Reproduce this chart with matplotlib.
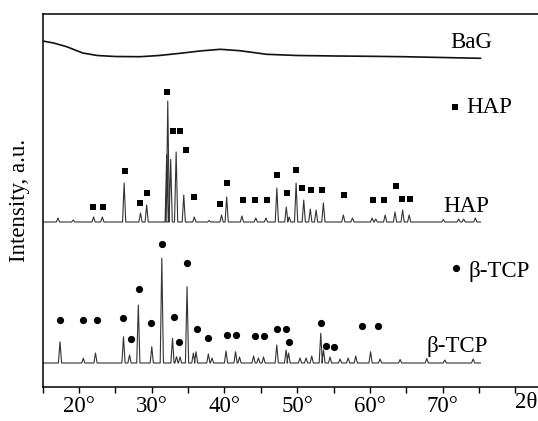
import numpy as np
import matplotlib
matplotlib.use("Agg")
import matplotlib.pyplot as plt
from matplotlib.ticker import MultipleLocator, FixedLocator, FixedFormatter

plt.rcParams["font.family"] = ["Liberation Serif", "DejaVu Serif"]
plt.rcParams["font.size"] = 16.5

# BaG amorphous hump (2theta, intensity)
bag_2t = [15.0, 16.5, 18.3, 20.5, 22.5, 25.0, 28.4, 31.0, 33.9, 36.6, 39.4,
          42.1, 45.8, 50.0, 55.4, 60.0, 64.6, 70.0, 75.2]
bag_int = [346, 344, 340.3, 334, 331.5, 330.5, 330.3, 331.5, 333.7, 336, 337.7,
           336.3, 332.7, 331.5, 331, 330.7, 330.3, 329.5, 328.7]

# HAP peaks: position and height above baseline
hap_pos = [17.1, 19.2, 22.0, 23.2, 26.2, 28.45, 29.3, 32.05, 32.2, 32.6, 33.35,
           34.4, 35.85, 37.9, 39.6, 40.3, 42.4, 44.3, 45.7, 47.2, 48.5, 48.9,
           49.85, 50.9, 51.8, 52.6, 53.6, 56.35, 57.6, 60.3, 60.8, 62.1, 63.45,
           64.5, 65.4, 70.1, 72.2, 72.9, 74.5]
hap_h = [4, 2, 5, 5, 39, 9, 17, 67, 121, 62.5, 70,
         27, 5, 1.5, 7, 25, 6, 4, 4, 34, 15, 5,
         39, 22, 13, 12, 19, 7, 4, 4, 3, 7, 10,
         12, 7, 2.5, 3, 3, 4]
# HAP reflection markers (squares)
hap_mk_pos = [21.96, 23.25, 26.27, 28.38, 29.31, 32.14, 32.88, 33.89, 34.67,
              35.85, 39.39, 40.31, 42.51, 44.2, 45.81, 47.19, 48.56, 49.8,
              50.63, 51.86, 53.38, 56.44, 60.47, 61.99, 63.6, 64.46, 65.52]
hap_mk_h = [15.3, 15.3, 51.3, 18.7, 28.7, 130.3, 91.3, 91.3, 72,
            24.7, 18, 39.3, 22, 22, 22, 47, 28.7, 52,
            33.7, 32, 32, 27, 22, 22, 36, 22.7, 22.7]

# beta-TCP peaks
tcp_pos = [17.38, 20.58, 22.26, 26.11, 26.94, 28.15, 30.0, 31.38, 32.85, 33.4,
           33.89, 34.85, 35.72, 36.09, 37.78, 38.29, 40.21, 41.52, 42.07, 44.0,
           44.66, 45.37, 47.19, 48.47, 48.81, 50.39, 51.22, 52.0, 53.24, 53.62,
           54.52, 55.9, 57.0, 58.05, 60.09, 61.4, 64.15, 67.82, 70.3, 74.2]
tcp_h = [21.3, 4.7, 10, 26.3, 8, 58, 16.3, 104.7, 24.7, 6.3,
         6, 76.3, 10, 11.3, 9, 5, 12, 11.3, 6, 7,
         5, 6, 18, 13, 10, 5, 5, 7, 29.7, 13,
         6, 4, 5, 7, 11.3, 4, 3.5, 4.5, 3, 4]
# beta-TCP reflection markers (circles)
tcp_mk_pos = [17.38, 20.58, 22.51, 26.09, 27.15, 28.2, 29.86, 31.37, 33.06,
              33.75, 34.89, 36.18, 37.7, 40.39, 41.59, 44.2, 45.48, 47.19,
              48.47, 48.88, 53.24, 53.97, 55.07, 58.96, 61.16]
tcp_mk_h = [43, 43, 43, 45.3, 23.7, 73.7, 40.3, 118.7, 45.7,
            20.7, 99.7, 33.7, 24.7, 27.7, 27.7, 27, 27, 34,
            34, 21.3, 39.7, 17, 16.3, 37, 37.3]

HAP_BASE = 165
TCP_BASE = 24
T_START, T_END = 15.0, 75.2
HW = 0.22  # half width of a peak at its foot


def trace(pos, h, base):
    xs = [T_START]
    ys = [base]
    for p, v in zip(pos, h):
        xs += [p - HW, p, p + HW]
        ys += [base, base + v, base]
    xs.append(T_END)
    ys.append(base)
    return xs, ys


fig = plt.figure(figsize=(5.38, 4.21), dpi=100)
ax = fig.add_axes([42.7 / 538, 34 / 421, 509 / 538, 373 / 421])

ax.plot(bag_2t, bag_int, color="#111111", lw=1.2)

hx, hy = trace(hap_pos, hap_h, HAP_BASE)
ax.plot(hx, hy, color="#333333", lw=0.8)
ax.plot(hap_mk_pos, np.array(hap_mk_h) + HAP_BASE, "s", color="black", ms=4.3, mew=0)

tx, ty = trace(tcp_pos, tcp_h, TCP_BASE)
ax.plot(tx, ty, color="#333333", lw=0.8)
ax.plot(tcp_mk_pos, np.array(tcp_mk_h) + TCP_BASE, "o", color="black", ms=5.2, mew=0)

# labels
ax.text(71.0, 338.7, "BaG", va="baseline", ha="left")
ax.text(70.1, 175, "HAP", va="baseline", ha="left")
ax.text(67.8, 35.3, "β-TCP", va="baseline", ha="left")
ax.plot([71.7], [280], "s", color="black", ms=4.3, mew=0)
ax.text(73.3, 273.7, "HAP", va="baseline", ha="left")
ax.plot([71.8], [118.7], "o", color="black", ms=5.2, mew=0)
ax.text(73.5, 110.3, "β-TCP", va="baseline", ha="left")

ax.set_xlim(15, 85)
ax.set_ylim(0, 373)
ax.spines["right"].set_visible(False)
for s in ["left", "top", "bottom"]:
    ax.spines[s].set_linewidth(1.1)
ax.set_yticks([])
ax.xaxis.set_major_locator(FixedLocator([20, 30, 40, 50, 60, 70, 80]))
ax.xaxis.set_major_formatter(FixedFormatter(["20°", "30°", "40°", "50°", "60°", "70°", ""]))
ax.xaxis.set_minor_locator(MultipleLocator(5))
ax.tick_params(axis="x", which="both", direction="out", length=4.2, width=1.0, pad=2)
ax.text(79.9, -4.5, "2θ", transform=ax.transData, va="top", ha="left")
ax.set_ylabel("Intensity, a.u.", labelpad=9)

fig.savefig("out.png", dpi=100)
